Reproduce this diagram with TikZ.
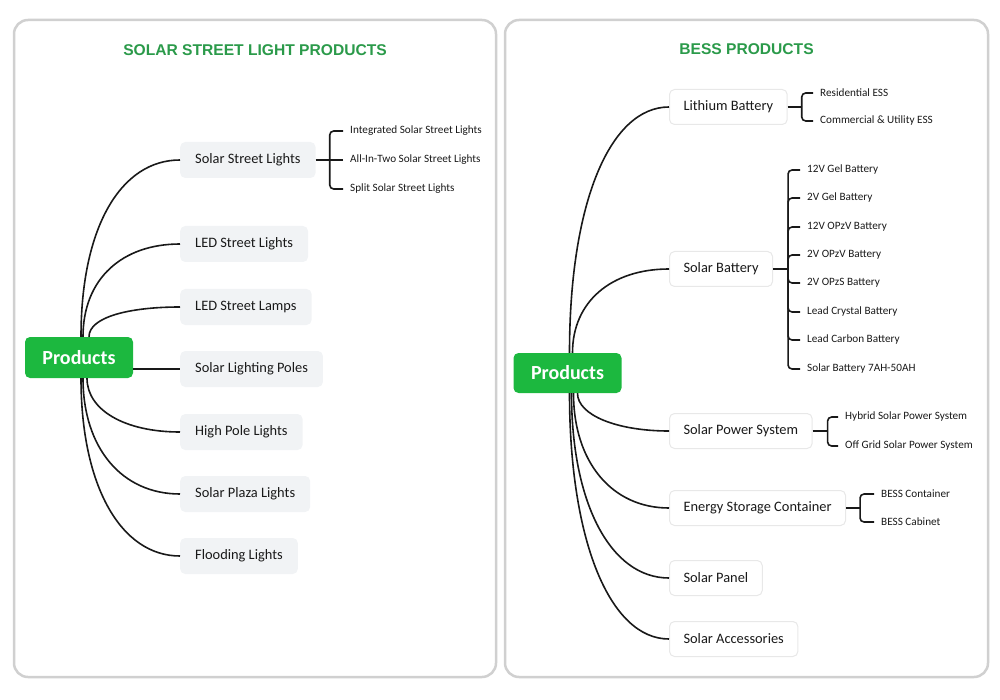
\documentclass[tikz,border=0pt]{standalone}
\usepackage{fontspec}
\setmainfont{Carlito}
\newfontfamily\headfont{Liberation Sans}
\usepackage{xcolor}
\usepackage{tikz}
\usetikzlibrary{positioning}
\definecolor{prodgreen}{HTML}{1CB83F}
\definecolor{headgreen}{HTML}{2B9A4A}
\definecolor{catfill}{HTML}{F1F3F5}
\definecolor{panelgray}{HTML}{D0D0D0}

\begin{document}
\begin{tikzpicture}[x=1pt, y=-1pt,
  panel/.style={draw=panelgray, line width=2.5pt, rounded corners=14pt},
  head/.style={font=\headfont\bfseries\fontsize{15.6}{18}\selectfont, text=headgreen},
  root/.style={fill=prodgreen, rounded corners=5pt, text=white, font=\bfseries\fontsize{20}{24}\selectfont, minimum width=108pt, minimum height=41pt, inner sep=0pt},
  catL/.style={fill=catfill, rounded corners=5pt, anchor=west, font=\fontsize{14.4}{17}\selectfont, text=black!90, minimum height=36pt, inner xsep=15pt},
  catR/.style={fill=white, draw=black!9, line width=1pt, rounded corners=5pt, anchor=west, font=\fontsize{14.4}{17}\selectfont, text=black!90, minimum height=35pt, inner xsep=14pt},
  leaf/.style={anchor=west, inner xsep=7pt, inner ysep=0pt, font=\fontsize{11.2}{13}\selectfont, text=black!90},
  link/.style={line width=1.6pt, black!90},
  fork/.style={link, rounded corners=4pt}
]
  \useasboundingbox (0,0) rectangle (1000,700);

  % two panels
  \draw[panel] (14,20) rectangle (496,677);
  \draw[panel] (505,20) rectangle (988,677);

  \node[head] (titleL) at (255,50.5) {SOLAR STREET LIGHT PRODUCTS};
  \node[head] (titleR) at (746.5,49.5) {BESS PRODUCTS};

  % left map
  \node[root] (prodL) at (79,357.5) {Products};
  \node[catL] (sslL)   at (180,160) {Solar Street Lights};
  \node[catL] (ledL)   at (180,244) {LED Street Lights};
  \node[catL] (lampL)  at (180,307) {LED Street Lamps};
  \node[catL] (poleL)  at (180,369) {Solar Lighting Poles};
  \node[catL] (highL)  at (180,432) {High Pole Lights};
  \node[catL] (plazaL) at (180,494) {Solar Plaza Lights};
  \node[catL] (floodL) at (180,556) {Flooding Lights};

  \node[leaf] (sslA) at (343,131) {Integrated Solar Street Lights};
  \node[leaf] (sslB) at (343,160) {All-In-Two Solar Street Lights};
  \node[leaf] (sslC) at (343,189) {Split Solar Street Lights};

  \draw[link] ([xshift=2pt]prodL.north) .. controls +(0,-110) and +(-59,0) .. (sslL.west);
  \draw[link] ([xshift=4pt]prodL.north) .. controls +(0,-58) and +(-58,0) .. (ledL.west);
  \draw[link] ([xshift=10pt]prodL.north) .. controls +(0,-20) and +(-50,0) .. (lampL.west);
  \draw[link] (prodL.east |- poleL.west) -- (poleL.west);
  \draw[link] ([xshift=8pt]prodL.south) .. controls +(0,32) and +(-55,0) .. (highL.west);
  \draw[link] ([xshift=4pt]prodL.south) .. controls +(0,70) and +(-58,0) .. (plazaL.west);
  \draw[link] ([xshift=2pt]prodL.south) .. controls +(0,108) and +(-59,0) .. (floodL.west);

  \coordinate (sslJ) at ([xshift=14pt]sslL.east);
  \draw[link] (sslL.east) -- (sslJ);
  \draw[fork] (sslA.west) -| (sslJ);
  \draw[link] (sslB.west) -- (sslJ);
  \draw[fork] (sslC.west) -| (sslJ);

  % right map
  \node[root, minimum height=40pt] (prodR) at (567.5,373) {Products};
  \node[catR] (lithR) at (669,107) {Lithium Battery};
  \node[catR] (batR)  at (669,269) {Solar Battery};
  \node[catR] (spsR)  at (669,431) {Solar Power System};
  \node[catR] (escR)  at (669,508) {Energy Storage Container};
  \node[catR] (panR)  at (669,578) {Solar Panel};
  \node[catR] (accR)  at (669,639) {Solar Accessories};

  \node[leaf] (lithA) at (813,93)  {Residential ESS};
  \node[leaf] (lithB) at (813,121) {Commercial \& Utility ESS};

  \node[leaf] (batA) at (800,170) {12V Gel Battery};
  \node[leaf] (batB) at (800,198) {2V Gel Battery};
  \node[leaf] (batC) at (800,227) {12V OPzV Battery};
  \node[leaf] (batD) at (800,255) {2V OPzV Battery};
  \node[leaf] (batE) at (800,283) {2V OPzS Battery};
  \node[leaf] (batF) at (800,312) {Lead Crystal Battery};
  \node[leaf] (batG) at (800,340) {Lead Carbon Battery};
  \node[leaf] (batH) at (800,369) {Solar Battery 7AH-50AH};

  \node[leaf] (spsA) at (838,417) {Hybrid Solar Power System};
  \node[leaf] (spsB) at (838,446) {Off Grid Solar Power System};

  \node[leaf] (escA) at (874,494) {BESS Container};
  \node[leaf] (escB) at (874,522) {BESS Cabinet};

  \draw[link] ([xshift=2pt]prodR.north) .. controls +(0,-150) and +(-59,0) .. (lithR.west);
  \draw[link] ([xshift=5pt]prodR.north) .. controls +(0,-51) and +(-58,0) .. (batR.west);
  \draw[link] ([xshift=10pt]prodR.south) .. controls +(0,22) and +(-52,0) .. (spsR.west);
  \draw[link] ([xshift=6pt]prodR.south) .. controls +(0,69) and +(-57,0) .. (escR.west);
  \draw[link] ([xshift=4pt]prodR.south) .. controls +(0,111) and +(-58,0) .. (panR.west);
  \draw[link] ([xshift=2pt]prodR.south) .. controls +(0,148) and +(-59,0) .. (accR.west);

  \coordinate (lithJ) at ([xshift=14pt]lithR.east);
  \draw[link] (lithR.east) -- (lithJ);
  \draw[fork] (lithA.west) -| (lithJ);
  \draw[fork] (lithB.west) -| (lithJ);

  \coordinate (batJ) at ([xshift=15pt]batR.east);
  \draw[link] (batR.east) -- (batJ);
  \draw[fork] (batA.west) -| (batJ);
  \draw[fork] (batB.west) -| (batJ);
  \draw[fork] (batC.west) -| (batJ);
  \draw[fork] (batD.west) -| (batJ);
  \draw[fork] (batE.west) -| (batJ);
  \draw[fork] (batF.west) -| (batJ);
  \draw[fork] (batG.west) -| (batJ);
  \draw[fork] (batH.west) -| (batJ);

  \coordinate (spsJ) at ([xshift=15pt]spsR.east);
  \draw[link] (spsR.east) -- (spsJ);
  \draw[fork] (spsA.west) -| (spsJ);
  \draw[fork] (spsB.west) -| (spsJ);

  \coordinate (escJ) at ([xshift=14pt]escR.east);
  \draw[link] (escR.east) -- (escJ);
  \draw[fork] (escA.west) -| (escJ);
  \draw[fork] (escB.west) -| (escJ);
\end{tikzpicture}
\end{document}
